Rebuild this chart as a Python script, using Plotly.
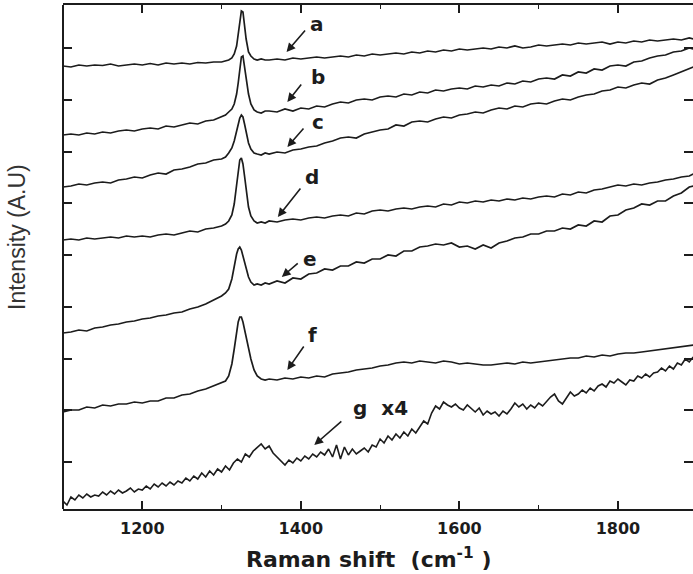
import plotly.graph_objects as go

# Raman shift sampling grid (cm^-1) for spectra a-f
raman_shift = [
    1100, 1110, 1120, 1130, 1140, 1150, 1160, 1170, 1180, 1190, 1200,
    1210, 1220, 1230, 1240, 1250, 1260, 1270, 1280, 1290, 1300,
    1305, 1309, 1313, 1316, 1319, 1321, 1323, 1325, 1327, 1329, 1331,
    1334, 1337, 1341, 1345, 1350, 1355,
    1360, 1370, 1380, 1390, 1400, 1410, 1420, 1430, 1440, 1450,
    1460, 1470, 1480, 1490, 1500, 1510, 1520, 1530, 1540, 1550,
    1560, 1570, 1580, 1590, 1600, 1610, 1620, 1630, 1640, 1650,
    1660, 1670, 1680, 1690, 1700, 1710, 1720, 1730, 1740, 1750,
    1760, 1770, 1780, 1790, 1800, 1810, 1820, 1830, 1840, 1850,
    1860, 1870, 1880, 1890, 1895,
]

# Offset intensities (A.U.)
spec_a = [
    443, 442, 444, 443, 444, 443.5, 445, 443, 444, 445, 444, 445.5, 444, 446, 445, 446, 445, 446.5, 446, 447, 447,
    448, 449, 451, 455, 463, 474, 488, 498, 497, 484, 470, 457, 453, 450, 449, 450, 449,
    449, 450, 449, 451, 450, 451, 452, 451, 452, 453,
    452, 454, 453, 455, 454, 455, 456, 455, 457, 456,
    458, 457, 459, 458, 460, 459, 460, 461, 460, 462,
    461, 463, 461, 462, 464, 463, 464, 465, 464, 466,
    465, 466, 467, 465, 467, 466, 468, 467, 469, 468,
    469, 470, 469, 471, 470,
]
spec_b = [
    374, 375, 374, 376, 375, 377, 376, 378, 379, 378, 380, 381, 380, 383, 382, 384, 386, 385, 388, 389, 392,
    394, 397, 400, 405, 415, 426, 441, 452, 453, 443, 430, 415, 405, 399, 397, 396, 398,
    398, 397, 400, 398, 401, 400, 403, 402, 405, 407,
    406, 409, 410, 409, 412, 413, 412, 415, 414, 417,
    416, 419, 418, 420, 421, 420, 423, 422, 424, 423,
    426, 425, 428, 427, 430, 431, 430, 434, 433, 437,
    436, 440, 439, 443, 444, 443, 447, 448, 451, 453,
    454, 457, 458, 461, 460,
]
spec_c = [
    322, 323, 325, 324, 326, 327, 326, 329, 330, 332, 331, 334, 336, 335, 339, 340, 342, 345, 346, 349, 350,
    352, 356, 361, 368, 378, 385, 391, 394, 392, 385, 376, 366, 360, 356, 355, 354, 356,
    355, 357, 356, 359, 360, 362, 363, 366, 368, 371,
    372, 371, 375, 377, 379, 380, 384, 383, 387, 388,
    387, 390, 392, 391, 394, 395, 397, 396, 399, 401,
    400, 403, 402, 405, 406, 405, 408, 410, 409, 412,
    414, 415, 418, 419, 422, 421, 424, 426, 425, 429,
    431, 434, 437, 440, 442,
]
spec_d = [
    269, 270, 269, 271, 270, 271, 272, 271, 273, 272, 273, 272, 274, 275, 274, 276, 278, 277, 280, 281, 283,
    285, 288, 294, 305, 324, 338, 349, 351, 345, 333, 319, 302, 293, 288, 286, 287, 286,
    288, 287, 289, 290, 289, 291, 292, 291, 293, 294,
    293, 296, 295, 298, 299, 298, 300, 301, 300, 302,
    303, 302, 305, 304, 307, 306, 308, 307, 309, 308,
    310, 309, 311, 310, 312, 313, 312, 315, 314, 317,
    316, 319, 320, 322, 324, 323, 325, 324, 326, 327,
    329, 330, 332, 333, 335,
]
spec_e = [
    176, 177, 179, 178, 181, 182, 184, 185, 187, 188, 190, 191, 193, 194, 196, 197, 200, 202, 205, 209, 213,
    216, 220, 230, 244, 255, 260, 262, 259, 253, 246, 240, 232, 227, 224, 225, 224, 226,
    225, 228, 226, 231, 230, 235, 236, 240, 239, 243,
    243, 247, 246, 250, 250, 254, 253, 258, 258, 262,
    263, 265, 264, 266, 262, 263, 260, 264, 261, 266,
    268, 271, 272, 275, 275, 278, 278, 281, 280, 284,
    283, 288, 287, 293, 294, 299, 301, 305, 304, 308,
    308, 313, 316, 322, 323,
]
spec_f = [
    97, 99, 99, 102, 101, 104, 103, 105, 105, 107, 106, 108, 108, 111, 111, 114, 115, 118, 120, 123, 126,
    128, 133, 145, 160, 177, 187, 192, 192, 187, 180, 172, 160, 150, 139, 133, 130, 129,
    130, 129, 131, 130, 132, 131, 133, 132, 135, 136,
    137, 139, 140, 141, 143, 144, 146, 147, 146, 148,
    147, 146, 148, 147, 145, 146, 145, 144, 144, 145,
    146, 145, 147, 146, 147, 148, 149, 150, 151, 151,
    153, 152, 154, 153, 155, 156, 156, 157, 158, 159,
    160, 161, 162, 163, 164,
]

# Spectrum g (x4) sampled every 5 cm^-1
raman_shift_g = list(range(1100, 1900, 5))
spec_g = [
    8, 4, 12, 9, 14, 11, 15, 12, 14, 13,
    17, 14, 18, 15, 19, 16, 18, 21, 17, 20,
    19, 23, 20, 25, 22, 26, 23, 27, 24, 28,
    26, 31, 28, 33, 30, 36, 32, 38, 34, 40,
    37, 43, 39, 46, 50, 47, 55, 52, 58, 62,
    65, 60, 63, 56, 52, 47, 44, 49, 46, 51,
    48, 53, 50, 55, 52, 57, 54, 60, 52, 64,
    50, 62, 54, 60, 55, 58, 61, 57, 64, 62,
    70, 66, 73, 69, 75, 71, 77, 73, 80, 76,
    82, 88, 85, 96, 103, 100, 107, 104, 102, 105,
    101, 99, 104, 100, 97, 101, 94, 98, 95, 97,
    93, 98, 95, 100, 106, 102, 105, 100, 104, 101,
    106, 103, 108, 112, 115, 108, 105, 111, 117, 113,
    115, 119, 116, 121, 118, 123, 125, 122, 128, 126,
    130, 127, 124, 129, 128, 133, 131, 135, 132, 136,
    137, 141, 138, 143, 140, 146, 144, 150, 147, 152,
]

series = [spec_a, spec_b, spec_c, spec_d, spec_e, spec_f]
for s in series:
    assert len(s) == len(raman_shift), len(s)
assert len(spec_g) == len(raman_shift_g)

labels = ["a", "b", "c", "d", "e", "f", "g\u00a0\u00a0x4"]

LINE = "#1c1c1c"
fig = go.Figure()
for s in series:
    fig.add_trace(go.Scatter(x=raman_shift, y=s, mode="lines",
                             line=dict(color=LINE, width=1.7), showlegend=False,
                             hoverinfo="skip"))
fig.add_trace(go.Scatter(x=raman_shift_g, y=spec_g, mode="lines",
                         line=dict(color=LINE, width=1.6), showlegend=False,
                         hoverinfo="skip"))

# label positions (x, y) and arrow tail -> head in data coords
label_pos = [(1421, 485), (1422, 432), (1422, 387), (1414, 332), (1411, 250), (1415, 174), (1500, 101)]
arrows = [
    ((1407, 480), (1382, 457)),
    ((1402, 426), (1383, 407)),
    ((1405, 382), (1383, 362)),
    ((1401, 322), (1371, 292)),
    ((1398, 247), (1376, 232)),
    ((1405, 164), (1383, 139)),
    ((1453, 89), (1417, 64)),
]

anns = []
lab_font = dict(family="DejaVu Sans", size=20, color="#1c1c1c", weight="bold")
for txt, (lx, ly) in zip(labels, label_pos):
    anns.append(dict(x=lx, y=ly, xref="x", yref="y", text=txt, showarrow=False,
                     font=lab_font, xanchor="center", yanchor="middle"))
for (tx, ty), (hx, hy) in arrows:
    anns.append(dict(x=hx, y=hy, ax=tx, ay=ty, xref="x", yref="y", axref="x", ayref="y",
                     text="", showarrow=True, arrowhead=2, arrowsize=1.1, arrowwidth=1.6,
                     arrowcolor=LINE, standoff=0, startstandoff=0))

# axis titles
anns.append(dict(x=(368 - 63) / 630, y=-49 / 504, xref="paper", yref="paper",
                 text="Raman shift  (cm<sup>-1</sup> )", showarrow=False,
                 font=dict(family="DejaVu Sans", size=22, color="#1c1c1c", weight="bold"),
                 xanchor="center", yanchor="middle"))
anns.append(dict(x=-46 / 630, y=(509 - 237) / 504, xref="paper", yref="paper",
                 text="Intensity (A.U)", showarrow=False, textangle=-90,
                 font=dict(family="Liberation Sans", size=23, color="#333333"),
                 xanchor="center", yanchor="middle"))

fig.update_layout(
    width=693, height=574,
    margin=dict(l=63, r=0, t=5, b=65),
    paper_bgcolor="white", plot_bgcolor="white",
    annotations=anns,
    shapes=[dict(type="line", xref="paper", yref="paper", x0=0, x1=0, y0=0, y1=1,
                 line=dict(color=LINE, width=2), layer="above")],
    xaxis=dict(range=[1100, 1894.7], tickmode="linear", tick0=1200, dtick=200,
               ticks="inside", ticklen=8, tickwidth=1.6, tickcolor=LINE,
               showline=True, linewidth=2, linecolor=LINE, mirror="ticks",
               showgrid=False, zeroline=False, ticklabelstandoff=4,
               tickfont=dict(family="DejaVu Sans", size=16, color="#1c1c1c", weight="bold"),
               minor=dict(ticks="inside", ticklen=4, tickwidth=1.4, tickcolor=LINE,
                          tick0=1100, dtick=100, showgrid=False)),
    yaxis=dict(range=[0, 504], tickmode="linear", tick0=47.1, dtick=51.7,
               ticks="inside", ticklen=9, tickwidth=1.6, tickcolor=LINE,
               showline=False, mirror="ticks",
               showticklabels=False, showgrid=False, zeroline=False),
)

fig.write_html("out.html", config={"displayModeBar": False},
               post_script="document.body.style.margin='0';document.body.style.overflow='hidden';")
